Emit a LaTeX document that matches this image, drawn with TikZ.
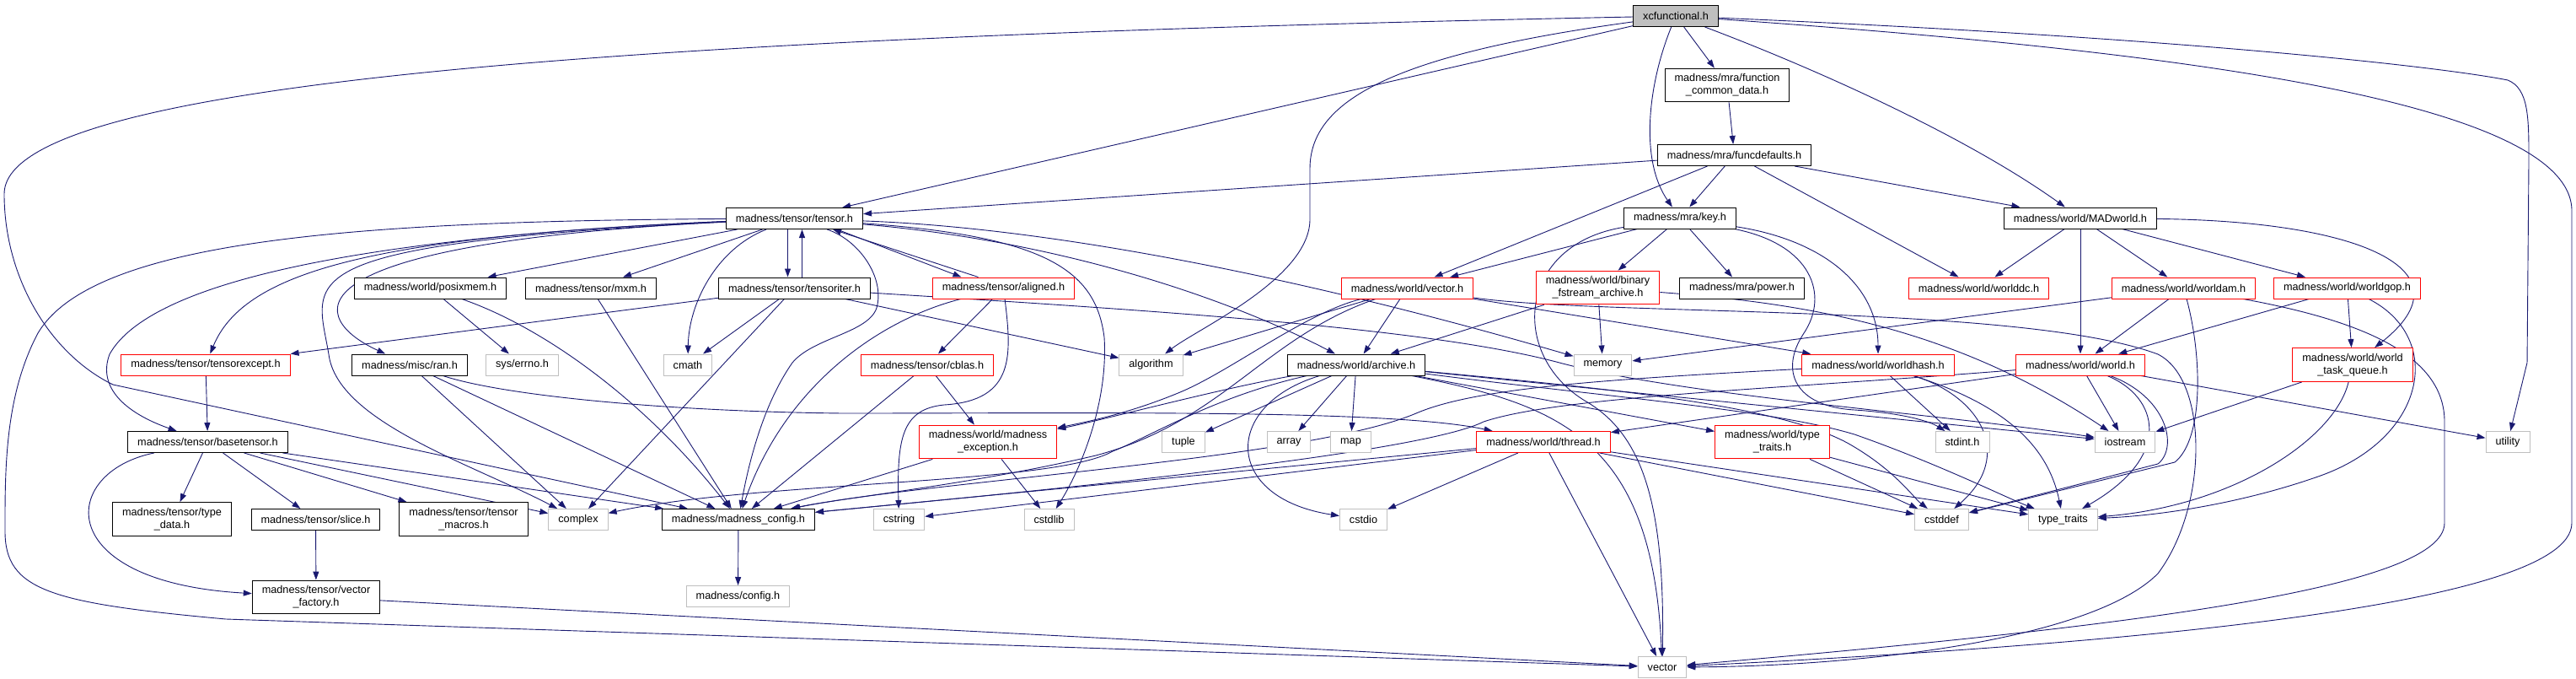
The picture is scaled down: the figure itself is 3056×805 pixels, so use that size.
\documentclass[tikz,border=0pt]{standalone}
\usepackage{fontspec}
\setmainfont{Liberation Sans}
\usetikzlibrary{arrows.meta}
\pgfdeclarelayer{background}
\pgfsetlayers{background,main}
\definecolor{incblue}{HTML}{191970}
\definecolor{sysgray}{HTML}{BFBFBF}
\newcommand{\hdrfont}{\fontsize{12.7pt}{15pt}\selectfont}

\begin{document}
\begin{tikzpicture}[
    x=1pt, y=-1pt,
    hdr/.style={draw=black, line width=1pt, fill=white, align=center, font=\hdrfont, inner xsep=11.5pt, inner ysep=6.5pt, minimum height=25pt},
    redhdr/.style={hdr, draw=red},
    syshdr/.style={hdr, draw=sysgray},
    inc/.style={-{Triangle[length=10pt,width=7pt]}, color=incblue, line width=0.9pt},
]
\useasboundingbox (0,0) rectangle (3056,805);

% rank 0..2
\node[hdr, fill=sysgray] (X) at (1988,19) {xcfunctional.h};
\node[hdr] (fcd) at (2049,101) {madness/mra/function\\\_common\_data.h};
\node[hdr] (fdef) at (2057.5,184) {madness/mra/funcdefaults.h};

% rank 3
\node[hdr] (tensor) at (942.5,259) {madness/tensor/tensor.h};
\node[hdr] (key) at (1993,258.5) {madness/mra/key.h};
\node[hdr] (madw) at (2468,258.5) {madness/world/MADworld.h};

% rank 4
\node[hdr] (posix) at (510.5,341.5) {madness/world/posixmem.h};
\node[hdr] (mxm) at (701,341.5) {madness/tensor/mxm.h};
\node[hdr] (titer) at (942.5,341.5) {madness/tensor/tensoriter.h};
\node[redhdr] (aligned) at (1190.5,341.5) {madness/tensor/aligned.h};
\node[redhdr] (wvec) at (1669.5,341.5) {madness/world/vector.h};
\node[redhdr] (bfa) at (1895.5,341) {madness/world/binary\\\_fstream\_archive.h};
\node[hdr] (power) at (2066.5,341.5) {madness/mra/power.h};
\node[redhdr] (wdc) at (2347.5,341.5) {madness/world/worlddc.h};
\node[redhdr] (wam) at (2590.5,341.5) {madness/world/worldam.h};
\node[redhdr] (wgop) at (2784.5,341.5) {madness/world/worldgop.h};

% rank 5
\node[redhdr] (texc) at (244,432.5) {madness/tensor/tensorexcept.h};
\node[hdr] (ran) at (486,432.5) {madness/misc/ran.h};
\node[syshdr] (errno) at (619.5,432.5) {sys/errno.h};
\node[syshdr] (cmath) at (816,432.5) {cmath};
\node[redhdr] (cblas) at (1100,432.5) {madness/tensor/cblas.h};
\node[syshdr] (algo) at (1365.5,432.5) {algorithm};
\node[hdr] (arch) at (1609,432.5) {madness/world/archive.h};
\node[syshdr] (memory) at (1901.5,432.5) {memory};
\node[redhdr] (whash) at (2228,432.5) {madness/world/worldhash.h};
\node[redhdr] (world) at (2468,432.5) {madness/world/world.h};
\node[redhdr] (wtq) at (2791,432.5) {madness/world/world\\\_task\_queue.h};

% rank 6
\node[hdr] (btensor) at (246.5,524) {madness/tensor/basetensor.h};
\node[redhdr] (mexc) at (1172,524) {madness/world/madness\\\_exception.h};
\node[syshdr] (tuple) at (1404,524) {tuple};
\node[syshdr] (array) at (1529,524) {array};
\node[syshdr] (map) at (1602.5,524) {map};
\node[redhdr] (thread) at (1831,524) {madness/world/thread.h};
\node[redhdr] (wtt) at (2102.5,524) {madness/world/type\\\_traits.h};
\node[syshdr] (stdint) at (2328,524) {stdint.h};
\node[syshdr] (iostream) at (2521,524) {iostream};
\node[syshdr] (utility) at (2975,524) {utility};

% rank 7
\node[hdr] (tdata) at (204,615.5) {madness/tensor/type\\\_data.h};
\node[hdr] (slice) at (374.5,616) {madness/tensor/slice.h};
\node[hdr] (tmacros) at (550,615.5) {madness/tensor/tensor\\\_macros.h};
\node[syshdr] (complex) at (686,616) {complex};
\node[hdr] (mconfig) at (876,616) {madness/madness\_config.h};
\node[syshdr] (cstring) at (1066.5,616) {cstring};
\node[syshdr] (cstdlib) at (1244.5,616) {cstdlib};
\node[syshdr] (cstdio) at (1617.5,616) {cstdio};
\node[syshdr] (cstddef) at (2303.5,616) {cstddef};
\node[syshdr] (ttraits) at (2447.5,616) {type\_traits};

% rank 8..9
\node[syshdr] (config) at (875.5,707) {madness/config.h};
\node[hdr] (vfact) at (375,708) {madness/tensor/vector\\\_factory.h};
\node[syshdr] (vector) at (1972,791) {vector};

\begin{pgfonlayer}{background}
% xcfunctional.h
\draw[inc] (X) -- (tensor);
\draw[inc] (X) .. controls (700,45) and (5,100) .. (5,230) .. controls (5,330) and (60,420) .. (134,456) -- (mconfig);
\draw[inc] (X) .. controls (1650,65) and (1554,120) .. (1554,200) -- (1554,260) .. controls (1554,330) and (1420,390) .. (algo);
\draw[inc] (X) -- (fcd);
\draw[inc] (X) .. controls (1955,100) and (1945,190) .. (key);
\draw[inc] (X) .. controls (2150,80) and (2330,160) .. (madw);
\draw[inc] (X) .. controls (2600,45) and (2900,80) .. (2975,95) .. controls (3000,105) and (3000,140) .. (3000,190) -- (2998,430) -- (utility);
\draw[inc] (X) .. controls (2500,55) and (3051,110) .. (3051,250) -- (3051,620) .. controls (3051,720) and (2500,765) .. (vector);

% mra
\draw[inc] (fcd) -- (fdef);
\draw[inc] (fdef) -- (tensor);
\draw[inc] (fdef) -- (key);
\draw[inc] (fdef) -- (wvec);
\draw[inc] (fdef) -- (wdc);
\draw[inc] (fdef) -- (madw);
\draw[inc] (key) -- (wvec);
\draw[inc] (key) -- (bfa);
\draw[inc] (key) -- (power);
\draw[inc] (key) .. controls (2165,285) and (2228,340) .. (whash);
\draw[inc] (key) .. controls (2150,290) and (2170,350) .. (2140,395) .. controls (2110,440) and (2130,482) .. (2200,486) .. controls (2260,490) and (2290,500) .. (stdint);
\draw[inc] (key) .. controls (1800,290) and (1790,420) .. (1880,475) .. controls (1950,515) and (1975,600) .. (vector);

% MADworld.h
\draw[inc] (madw) -- (wdc);
\draw[inc] (madw) -- (wam);
\draw[inc] (madw) -- (wgop);
\draw[inc] (madw) -- (world);
\draw[inc] (madw) .. controls (2800,262) and (2935,320) .. (wtq);

% tensor.h
\draw[inc] (tensor) .. controls (420,262) and (110,285) .. (45,395) .. controls (5,470) and (6,560) .. (6,630) .. controls (6,700) and (60,715) .. (268,734) -- (vector);
\draw[inc] (tensor) .. controls (450,280) and (180,330) .. (130,420) .. controls (115,460) and (150,490) .. (btensor);
\draw[inc] (tensor) .. controls (450,280) and (290,320) .. (texc);
\draw[inc] (tensor) .. controls (330,290) and (375,330) .. (390,420) .. controls (400,500) and (560,550) .. (complex);
\draw[inc] (tensor) .. controls (320,290) and (370,380) .. (ran);
\draw[inc] (tensor) -- (posix);
\draw[inc] (tensor) -- (mxm);
\draw[inc] ([xshift=-8pt]tensor.south) -- ([xshift=-8pt]titer.north);
\draw[inc] ([xshift=9pt]titer.north) -- ([xshift=9pt]tensor.south);
\draw[inc] (tensor) .. controls (850,295) and (817,360) .. (cmath);
\draw[inc] (tensor) .. controls (1020,285) and (1050,330) .. (1040,365) .. controls (1030,395) and (965,400) .. (940,430) .. controls (905,480) and (888,550) .. (mconfig);
\draw[inc] ([xshift=-31pt]tensor.south east) -- ([xshift=-50pt]aligned.north);
\draw[inc] ([xshift=-30pt]aligned.north) -- ([xshift=-36pt]tensor.south east);
\draw[inc] (tensor) .. controls (1240,280) and (1300,320) .. (1310,400) .. controls (1315,480) and (1280,560) .. (cstdlib);
\draw[inc] (tensor) .. controls (1250,285) and (1450,350) .. (arch);
\draw[inc] (tensor) .. controls (1250,270) and (1550,330) .. (memory);

% tensoriter.h, aligned.h
\draw[inc] (titer) -- (texc);
\draw[inc] (titer) -- (cmath);
\draw[inc] (titer) -- (complex);
\draw[inc] (titer) -- (algo);
\draw[inc] (titer) .. controls (1400,370) and (1700,390) .. (1850,430) .. controls (2000,470) and (2300,490) .. (iostream);
\draw[inc] (aligned) -- (cblas);
\draw[inc] (aligned) .. controls (1040,380) and (930,460) .. (mconfig);
\draw[inc] (aligned) .. controls (1200,420) and (1205,475) .. (1120,480) .. controls (1070,485) and (1064,520) .. (cstring);
\draw[inc] (posix) -- (errno);
\draw[inc] (posix) .. controls (650,390) and (770,480) .. (mconfig);
\draw[inc] (mxm) -- (mconfig);

% world/vector.h, binary_fstream_archive.h
\draw[inc] (wvec) -- (algo);
\draw[inc] (wvec) -- (arch);
\draw[inc] (wvec) .. controls (1550,370) and (1460,440) .. (1400,465) .. controls (1340,490) and (1290,500) .. (mexc);
\draw[inc] (wvec) .. controls (1500,400) and (1450,500) .. (1300,540) .. controls (1150,575) and (1000,590) .. (mconfig);
\draw[inc] (wvec) -- (whash);
\draw[inc] (wvec) .. controls (1900,375) and (2400,360) .. (2560,420) .. controls (2620,450) and (2620,600) .. (2560,680) .. controls (2480,760) and (2200,790) .. (vector);
\draw[inc] (bfa) -- (arch);
\draw[inc] (bfa) -- (memory);
\draw[inc] (bfa) .. controls (2150,360) and (2320,390) .. (iostream);

% worldam.h, worldgop.h
\draw[inc] (wam) -- (memory);
\draw[inc] (wam) -- (world);
\draw[inc] (wam) .. controls (2612,420) and (2615,520) .. (2580,548) -- (cstddef);
\draw[inc] (wam) .. controls (2800,380) and (2900,420) .. (2900,500) -- (2900,620) .. controls (2900,700) and (2500,745) .. (vector);
\draw[inc] (wgop) -- (world);
\draw[inc] (wgop) -- (wtq);
\draw[inc] (wgop) .. controls (2900,400) and (2880,520) .. (2750,565) .. controls (2650,600) and (2550,612) .. (ttraits);

% rank 5 sources
\draw[inc] (texc) -- (btensor);
\draw[inc] (ran) -- (complex);
\draw[inc] (ran) -- (mconfig);
\draw[inc] (ran) .. controls (600,470) and (800,488) .. (1000,490) .. controls (1300,490) and (1650,485) .. (thread);
\draw[inc] (cblas) -- (mexc);
\draw[inc] (cblas) -- (mconfig);
\draw[inc] (arch) .. controls (1450,460) and (1300,500) .. (mexc);
\draw[inc] (arch) -- (tuple);
\draw[inc] (arch) -- (array);
\draw[inc] (arch) -- (map);
\draw[inc] (arch) .. controls (1450,480) and (1450,590) .. (cstdio);
\draw[inc] (arch) .. controls (1440,470) and (1360,520) .. (1320,535) .. controls (1250,575) and (900,570) .. (complex);
\draw[inc] (arch) .. controls (1850,480) and (1960,520) .. (vector);
\draw[inc] (arch) -- (iostream);
\draw[inc] (arch) -- (wtt);
\draw[inc] (arch) .. controls (1900,460) and (2120,480) .. (2200,530) .. controls (2250,560) and (2270,590) .. (cstddef);
\draw[inc] (arch) .. controls (1900,470) and (2100,485) .. (2200,515) .. controls (2300,550) and (2380,590) .. (ttraits);
\draw[inc] (whash) -- (stdint);
\draw[inc] (whash) .. controls (2350,470) and (2390,540) .. (cstddef);
\draw[inc] (whash) .. controls (2380,480) and (2430,530) .. (ttraits);
\draw[inc] (whash) .. controls (1900,450) and (1750,460) .. (1680,490) .. controls (1550,545) and (1100,570) .. (mconfig);
\draw[inc] (world) -- (iostream);
\draw[inc] (world) .. controls (2570,470) and (2585,530) .. (2560,550) -- (cstddef);
\draw[inc] (world) .. controls (2560,470) and (2580,540) .. (ttraits);
\draw[inc] (world) -- (utility);
\draw[inc] (world) -- (thread);
\draw[inc] (world) .. controls (2100,462) and (1850,470) .. (1760,500) .. controls (1680,540) and (1200,585) .. (mconfig);
\draw[inc] (wtq) -- (iostream);
\draw[inc] (wtq) .. controls (2770,520) and (2650,600) .. (ttraits);

% rank 6 sources
\draw[inc] (btensor) -- (tdata);
\draw[inc] (btensor) -- (slice);
\draw[inc] (btensor) -- (tmacros);
\draw[inc] (btensor) -- (complex);
\draw[inc] (btensor) -- (mconfig);
\draw[inc] (btensor) .. controls (70,560) and (60,690) .. (vfact);
\draw[inc] (mexc) -- (mconfig);
\draw[inc] (mexc) -- (cstdlib);
\draw[inc] (thread) -- (mconfig);
\draw[inc] (thread) -- (cstring);
\draw[inc] (thread) -- (cstdio);
\draw[inc] (thread) -- (vector);
\draw[inc] (thread) -- (cstddef);
\draw[inc] (thread) -- (ttraits);
\draw[inc] (wtt) -- (cstddef);
\draw[inc] (wtt) -- (ttraits);

% bottom
\draw[inc] (slice) -- (vfact);
\draw[inc] (vfact) -- (vector);
\draw[inc] (mconfig) -- (config);
\end{pgfonlayer}
\end{tikzpicture}
\end{document}
